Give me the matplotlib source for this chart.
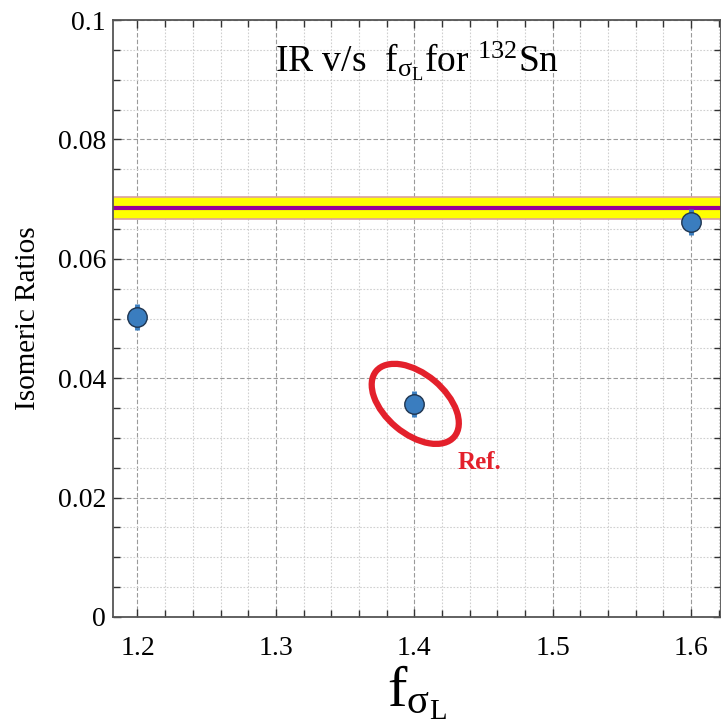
import matplotlib
matplotlib.use("Agg")
import matplotlib.pyplot as plt
import matplotlib.transforms as mtransforms
from matplotlib.patches import Ellipse
from matplotlib.ticker import MultipleLocator, FixedLocator

plt.rcParams['font.family'] = ['Liberation Serif', 'DejaVu Serif']
plt.rcParams['mathtext.fontset'] = 'custom'
plt.rcParams['mathtext.rm'] = 'Liberation Serif'
plt.rcParams['mathtext.it'] = 'Liberation Serif:italic'
plt.rcParams['mathtext.bf'] = 'Liberation Serif:bold'

# Data
f_sigma = [1.2, 1.4, 1.6]
isomeric_ratio = [0.0503, 0.0357, 0.0662]
ratio_err = [0.0022, 0.0022, 0.0022]
exp_value = 0.0685
exp_low = 0.0667
exp_high = 0.0703
ref_index = 1
x_ticks = [1.2, 1.3, 1.4, 1.5, 1.6]
y_ticks = [0, 0.02, 0.04, 0.06, 0.08, 0.1]
y_ticklabels = ["0", "0.02", "0.04", "0.06", "0.08", "0.1"]

fig = plt.figure(figsize=(7.21, 7.26), dpi=100)
ax = fig.add_axes([113/721, 1 - 617/726, (720.5 - 113)/721, (617 - 20)/726])

ax.set_xlim(1.1823, 1.6213)
ax.set_ylim(0, 0.1)

# grid
ax.xaxis.set_major_locator(FixedLocator(x_ticks))
ax.xaxis.set_minor_locator(MultipleLocator(0.02))
ax.yaxis.set_major_locator(FixedLocator(y_ticks))
ax.yaxis.set_minor_locator(MultipleLocator(0.005))
ax.set_yticklabels(y_ticklabels)
ax.grid(which='major', color='#9a9a9a', linestyle=(0, (4, 2)), linewidth=0.8, zorder=0)
ax.grid(which='minor', color='#d0d0d0', linestyle=(0, (1.5, 1.5)), linewidth=0.8, zorder=0)
ax.set_axisbelow(True)

# experimental band
ax.axhspan(exp_low, exp_high, facecolor='#ffff00', edgecolor='none', zorder=1)
ax.axhline(exp_low, color='#d9a0a0', linewidth=1.2, zorder=1.5)
ax.axhline(exp_high, color='#d9a0a0', linewidth=1.2, zorder=1.5)
ax.axhline(exp_value, color='#990099', linewidth=3, zorder=2)

# points
ax.errorbar(f_sigma, isomeric_ratio, yerr=ratio_err, fmt='o', color='#3a7dbf',
            ecolor='#3a7dbf', elinewidth=3.5, capsize=0, markersize=14,
            markeredgecolor='#1f3550', markeredgewidth=1.0, zorder=5)

# ellipse around reference point
trans = fig.dpi_scale_trans + mtransforms.ScaledTranslation(
    f_sigma[ref_index], isomeric_ratio[ref_index], ax.transData)
ell = Ellipse((0.01, 0.0), width=1.02, height=0.60, angle=-40, transform=trans,
              fill=False, edgecolor='#e3202b', linewidth=4.5, zorder=6, clip_on=False)
ax.add_patch(ell)
ax.annotate("Ref.", xy=(f_sigma[ref_index], isomeric_ratio[ref_index]),
            xytext=(31, -47), textcoords='offset points', ha='left', va='baseline',
            color='#e3202b', fontsize=18, fontweight='bold', zorder=7)

# title inside axes
ax.text(0.5, 0.913, r"IR v/s  f$_{\mathrm{σ}_{\mathrm{L}}}$for $^{132}$Sn", transform=ax.transAxes,
        ha='center', va='baseline', fontsize=27)

# ticks and spines
ax.tick_params(axis='both', which='both', direction='in', top=True, right=True,
               color='#333333', width=1.0)
ax.tick_params(axis='both', which='major', length=6, labelsize=20)
ax.tick_params(axis='both', which='minor', length=5)
ax.tick_params(axis='x', which='major', pad=14)
ax.tick_params(axis='y', which='major', pad=5)
for s in ax.spines.values():
    s.set_color('#555555')
    s.set_linewidth(1.3)

ax.set_ylabel("Isomeric Ratios", fontsize=21, labelpad=12)
ax.set_xlabel(r"f$_{\mathrm{σ}_{\mathrm{L}}}$", fontsize=42, labelpad=2)

fig.savefig("out.png", dpi=100)
